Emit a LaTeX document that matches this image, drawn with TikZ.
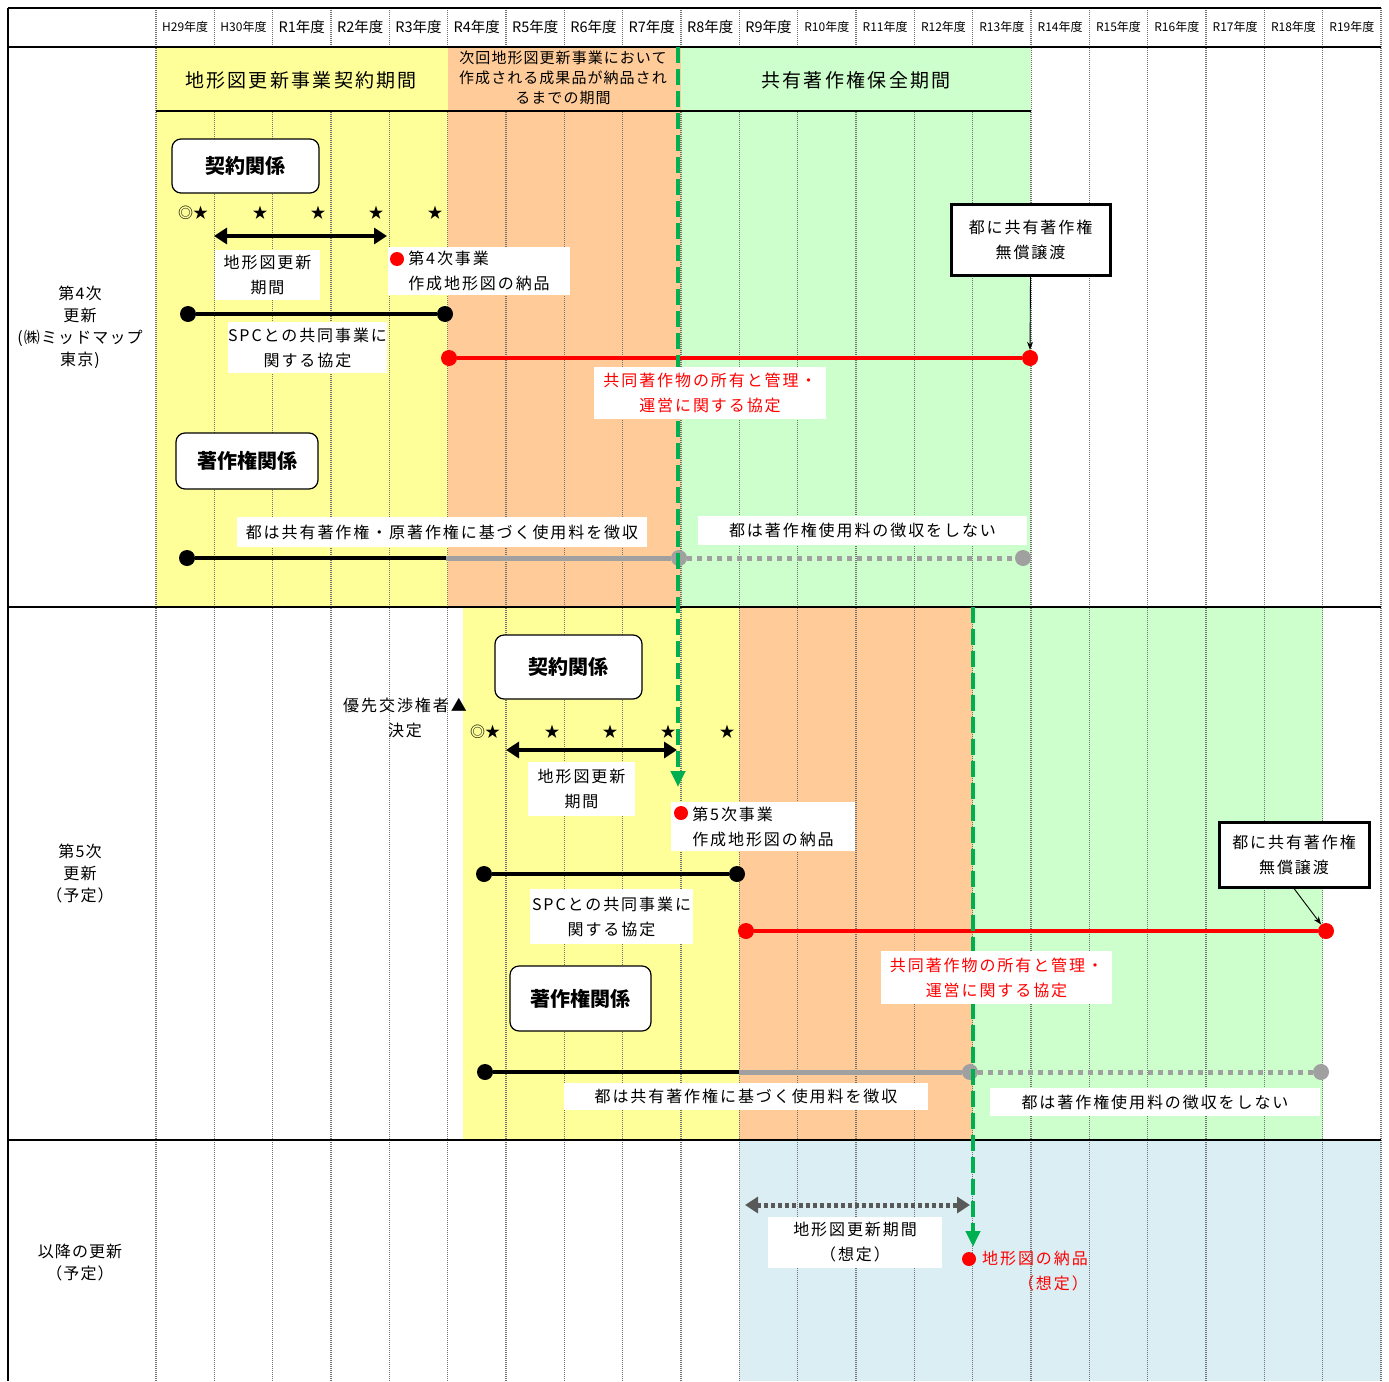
\documentclass[tikz,border=0pt]{standalone}
\usepackage{fontspec}
\setmainfont{Noto Sans CJK JP}
\newfontfamily\fS[LetterSpace=12]{Noto Sans CJK JP}
\newfontfamily\fM[LetterSpace=7]{Noto Sans CJK JP}
\usetikzlibrary{arrows.meta,calc}
\definecolor{cyel}{HTML}{FFFF99}
\definecolor{cora}{HTML}{FFCC99}
\definecolor{cgrn}{HTML}{CCFFCC}
\definecolor{cblu}{HTML}{DAEEF3}
\definecolor{cgln}{HTML}{00B050}
\definecolor{cgry}{HTML}{A0A0A0}
\definecolor{cdgy}{HTML}{595959}
\begin{document}
\begin{tikzpicture}[x=1pt,y=-1pt,
  gridl/.style={draw=black!55,line width=1.2pt,dash pattern=on 1pt off 1pt},
  thk/.style={draw=black,line width=2.6pt},
  hdS/.style={font=\fontsize{12}{13}\selectfont,inner sep=0pt},
  hdL/.style={font=\fontsize{14.5}{15}\selectfont,inner sep=0pt},
  rowlab/.style={font=\fM\fontsize{16}{22}\selectfont,align=center,inner sep=0pt},
  ttl/.style={font=\fS\fontsize{19}{23}\selectfont,inner sep=0pt},
  bandsm/.style={font=\fM\fontsize{15}{20}\selectfont,align=center,inner sep=0pt},
  plain/.style={font=\fS\fontsize{16}{25}\selectfont,align=center,inner sep=0pt},
  lbl/.style={font=\fS\fontsize{16}{25}\selectfont,align=center,fill=white,inner sep=0pt},
  rbox/.style={draw=black,line width=1.2pt,rounded corners=9pt,fill=white,font=\bfseries\fontsize{20}{24}\selectfont,inner sep=0pt},
  tbox/.style={draw=black,line width=3pt,fill=white,font=\fS\fontsize{16}{25}\selectfont,align=center,inner sep=0pt},
  blob/.style={circle,fill=#1,inner sep=0pt,minimum size=16pt},
  sdot/.style={circle,fill=red,inner sep=0pt,minimum size=14pt},
  stars/.style={font=\fontsize{15}{18}\selectfont,inner sep=0pt},
  bl/.style={draw=black,line width=4pt},
  rl/.style={draw=red,line width=4pt},
  gl/.style={draw=cgry,line width=5pt},
  gd/.style={draw=cgry,line width=5pt,dash pattern=on 5pt off 5pt},
  dbl/.style={draw=black,line width=4pt,{Triangle[length=13pt,width=16pt]}-{Triangle[length=13pt,width=16pt]}},
  dgd/.style={draw=cdgy,line width=5pt,dash pattern=on 4pt off 3pt,{Triangle[length=13pt,width=16pt]}-{Triangle[length=13pt,width=16pt]}},
  gdash/.style={draw=cgln,line width=4pt,dash pattern=on 16pt off 6pt,-{Triangle[length=16pt,width=14pt]}},
  thin/.style={draw=black,line width=0.9pt,-{Stealth[length=8pt,width=6pt]}},
]
\useasboundingbox (0,0) rectangle (1389,1381);
\fill[white] (0,0) rectangle (1389,1381);
% fills
\fill[cyel] (156,47) rectangle (447.7,607);
\fill[cora] (447.7,47) rectangle (681,607);
\fill[cgrn] (681,47) rectangle (1031,607);
\fill[cyel] (463,607) rectangle (739.3,1140);
\fill[cora] (739.3,607) rectangle (972.7,1140);
\fill[cgrn] (972.7,607) rectangle (1322.7,1140);
\fill[cblu] (739.3,1140) rectangle (1381,1381);
% grid
\foreach \k in {0,...,21} \draw[gridl] ({156+\k*58.3333},8) -- ({156+\k*58.3333},1381);
% header band
\fill[cyel] (157.5,48) rectangle (447.7,110);
\fill[cora] (447.7,48) rectangle (681,110);
\fill[cgrn] (681,48) rectangle (1031,110);
% frame lines
\draw[thk] (8,8) -- (1381,8);
\draw[thk] (8,47) -- (1381,47);
\draw[thk] (8,607) -- (1381,607);
\draw[thk] (8,1140) -- (1381,1140);
\draw[thk] (156,111) -- (1031,111);
\draw[thk] (8,8) -- (8,1381);
% header labels
\foreach \k/\n in {0/H29,1/H30,11/R10,12/R11,13/R12,14/R13,15/R14,16/R15,17/R16,18/R17,19/R18,20/R19}
  \node[hdS] (h\k) at ({156+(\k+0.5)*58.3333},27) {\n 年度};
\foreach \k/\n in {2/R1,3/R2,4/R3,5/R4,6/R5,7/R6,8/R7,9/R8,10/R9}
  \node[hdL] (h\k) at ({156+(\k+0.5)*58.3333},27) {\n 年度};
% row labels
\node[rowlab] (lab4) at (80,327) {第4次\\更新\\(㈱ミッドマップ\\東京)};
\node[rowlab] (lab5) at (80,873) {第5次\\更新\\（予定）};
\node[rowlab] (lab6) at (80,1263) {以降の更新\\（予定）};
% band titles
\node[ttl] (t1) at (301,80) {地形図更新事業契約期間};
\node[bandsm] (t2) at (563,78) {次回地形図更新事業において\\作成される成果品が納品され\\るまでの期間};
\node[ttl] (t3) at (856,80) {共有著作権保全期間};
% ---- row 1
\node[rbox,minimum width=147pt,minimum height=54pt] (k1) at (245.5,166) {契約関係};
\node[stars] (s10) at (193,213) {◎★};
\node[stars] (s11) at (260,213) {★};
\node[stars] (s12) at (318,213) {★};
\node[stars] (s13) at (376,213) {★};
\node[stars] (s14) at (435,213) {★};
\coordinate (a1l) at (214,236); \coordinate (a1r) at (387,236);
\draw[dbl] (a1l) -- (a1r);
\node[lbl,minimum width=105pt,minimum height=50pt] (p1) at (267.5,275) {地形図更新\\期間};
\node[lbl,minimum width=182pt,minimum height=48pt,align=left] (n4) at (479,271) {第4次事業\\作成地形図の納品};
\node[sdot] (rd4) at (397,259) {};
\node[blob=black] (c1a) at (188,314) {};
\node[blob=black] (c1b) at (445,314) {};
\draw[bl] (c1a) -- (c1b);
\node[lbl,minimum width=159pt,minimum height=51pt] (spc1) at (307.5,347.5) {SPCとの共同事業に\\関する協定};
\node[blob=red] (r1a) at (449,358) {};
\node[blob=red] (r1b) at (1030,358) {};
\draw[rl] (r1a) -- (r1b);
\node[tbox,minimum width=159pt,minimum height=71pt] (g1) at (1030.5,239.5) {都に共有著作権\\無償譲渡};
\draw[thin] (g1.south) -- (r1b.north);
\node[rbox,minimum width=142pt,minimum height=56pt] (c1) at (247,461) {著作権関係};
\node[lbl,minimum width=410pt,minimum height=30pt] (u1) at (442,532) {都は共有著作権・原著作権に基づく使用料を徴収};
\node[lbl,minimum width=329pt,minimum height=29pt] (u2) at (862.5,530.5) {都は著作権使用料の徴収をしない};
\coordinate (m1) at (446,558);
\node[blob=black] (e1a) at (187,558) {};
\node[blob=cgry] (e1b) at (679,558) {};
\node[blob=cgry] (e1c) at (1023,558) {};
\draw[bl] (e1a) -- (m1);
\draw[gl] (m1) -- (e1b);
\draw[gd] (e1b) -- (e1c);
% ---- row 2
\node[rbox,minimum width=147pt,minimum height=64pt] (k2) at (568.5,667) {契約関係};
\node[plain] (yu) at (405,718) {優先交渉権者▲\\決定};
\node[stars] (s20) at (485,732) {◎★};
\node[stars] (s21) at (552,732) {★};
\node[stars] (s22) at (610,732) {★};
\node[stars] (s23) at (668,732) {★};
\node[stars] (s24) at (727,732) {★};
\coordinate (a2l) at (506,750); \coordinate (a2r) at (677,750);
\draw[dbl] (a2l) -- (a2r);
\node[lbl,minimum width=107pt,minimum height=54pt] (p2) at (581.5,789) {地形図更新\\期間};
\node[lbl,minimum width=184pt,minimum height=49pt,align=left] (n5) at (763,826.5) {第5次事業\\作成地形図の納品};
\node[sdot] (rd5) at (681,813) {};
\node[blob=black] (c2a) at (484,874) {};
\node[blob=black] (c2b) at (737,874) {};
\draw[bl] (c2a) -- (c2b);
\node[lbl,minimum width=163pt,minimum height=55pt] (spc2) at (611.5,916.5) {SPCとの共同事業に\\関する協定};
\node[blob=red] (r2a) at (746,931) {};
\node[blob=red] (r2b) at (1326,931) {};
\draw[rl] (r2a) -- (r2b);
\node[tbox,minimum width=150pt,minimum height=65pt] (g2) at (1294,854.5) {都に共有著作権\\無償譲渡};
\draw[thin] (g2.south) -- (r2b);
\node[rbox,minimum width=141pt,minimum height=65pt] (c2) at (580.5,998.5) {著作権関係};
\coordinate (m2) at (739,1072);
\node[blob=black] (e2a) at (485,1072) {};
\node[blob=cgry] (e2b) at (970,1072) {};
\node[blob=cgry] (e2c) at (1321,1072) {};
\draw[bl] (e2a) -- (m2);
\draw[gl] (m2) -- (e2b);
\draw[gd] (e2b) -- (e2c);
\node[lbl,minimum width=364pt,minimum height=27pt] (u3) at (746,1096.5) {都は共有著作権に基づく使用料を徴収};
\node[lbl,minimum width=330pt,minimum height=28pt] (u4) at (1155,1102) {都は著作権使用料の徴収をしない};
% ---- row 3
\coordinate (a3l) at (745,1205); \coordinate (a3r) at (970,1205);
\draw[dgd] (a3l) -- (a3r);
\node[lbl,minimum width=174pt,minimum height=51pt] (p3) at (855,1242.5) {地形図更新期間\\（想定）};
\node[sdot] (rd6) at (969,1259) {};
\node[plain,text=red,align=right,anchor=east] (n6) at (1088,1271) {地形図の納品\\（想定）};
% green dashed arrows
\coordinate (gs1) at (678,47); \coordinate (ge1) at (678,787);
\coordinate (gs2) at (973,607); \coordinate (ge2) at (973,1247);
\draw[gdash] (gs1) -- (ge1);
\draw[gdash] (gs2) -- (ge2);
% red agreement labels above the dashed lines
\node[lbl,text=red,minimum width=232pt,minimum height=52pt] (rt1) at (710,393) {共同著作物の所有と管理・\\運営に関する協定};
\node[lbl,text=red,minimum width=231pt,minimum height=53pt] (rt2) at (996.5,977.5) {共同著作物の所有と管理・\\運営に関する協定};
\end{tikzpicture}
\end{document}
